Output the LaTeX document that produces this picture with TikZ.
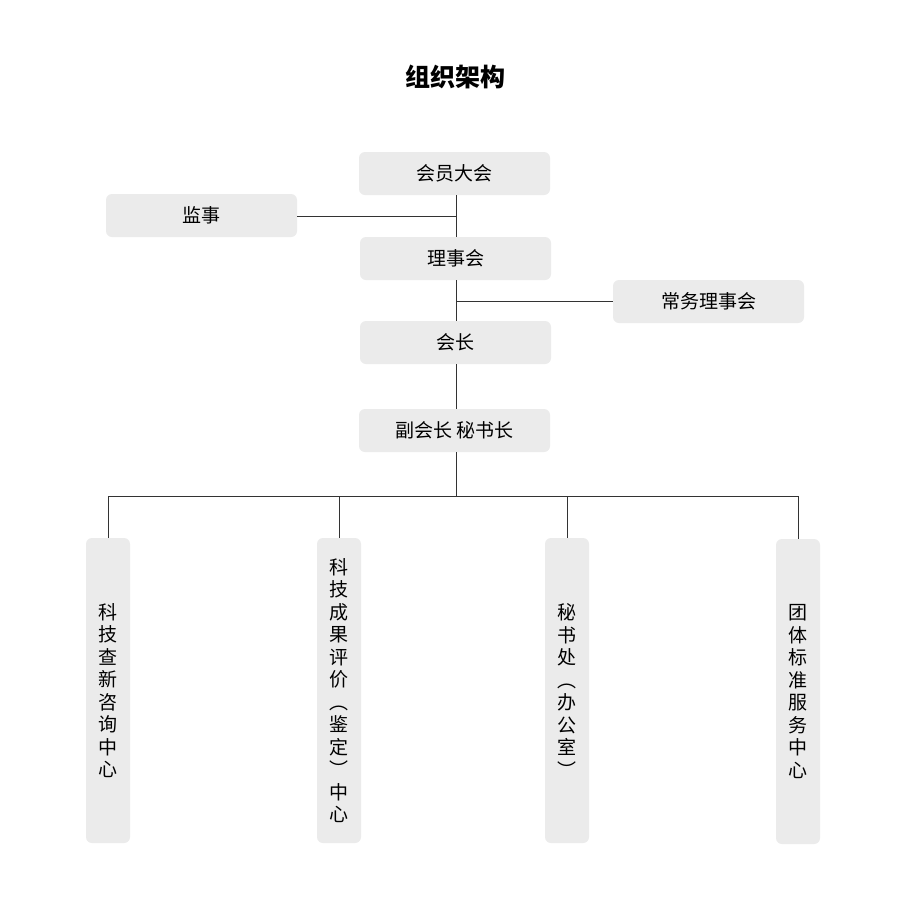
\documentclass[tikz,border=0pt]{standalone}
\usepackage{fontspec}
\newfontfamily\cjk{Noto Sans CJK SC}
\begin{document}
\begin{tikzpicture}[x=1pt,y=-1pt,
  box/.style={fill=black!8,rounded corners=6pt,minimum width=191pt,minimum height=43pt,inner sep=0pt,font=\cjk\fontsize{19}{22}\selectfont},
  vbox/.style={fill=black!8,rounded corners=6pt,minimum width=44pt,minimum height=305pt,inner sep=0pt,align=center,font=\cjk\fontsize{19}{22.5}\selectfont},
  ln/.style={draw=black!80,line width=0.8pt}]
\useasboundingbox[fill=white] (0,0) rectangle (910,922);
\node[font=\cjk\bfseries\fontsize{25}{28}\selectfont] (title) at (455,77) {组织架构};
\node[box] (hy) at (454.5,173.5) {会员大会};
\node[box] (js) at (201.5,215.5) {监事};
\node[box] (ls) at (455.5,258.5) {理事会};
\node[box] (cw) at (708.5,301.5) {常务理事会};
\node[box] (hz) at (455.5,342.5) {会长};
\node[box] (fh) at (454.5,430.5) {副会长 秘书长};
\node[vbox] (b1) at (108,690.5) {科\\技\\查\\新\\咨\\询\\中\\心};
\node[vbox] (b2) at (339,690.5) {科\\技\\成\\果\\评\\价\\︵\\鉴\\定\\︶\\中\\心};
\node[vbox] (b3) at (567,690.5) {秘\\书\\处\\︵\\办\\公\\室\\︶};
\node[vbox] (b4) at (798,691.5) {团\\体\\标\\准\\服\\务\\中\\心};
\coordinate (j1) at (456,216);
\coordinate (j2) at (456,301);
\coordinate (bar) at (456,496);
\draw[ln] (456,195) -- (456,237);
\draw[ln] (js.east |- j1) -- (j1);
\draw[ln] (j2) -- (cw.west |- j2);
\draw[ln] (456,280) -- (456,321);
\draw[ln] (456,364) -- (456,409);
\draw[ln] (456,452) -- (bar);
\draw[ln] (b1.north |- bar) -- (b4.north |- bar);
\foreach \b in {b1,b2,b3,b4} \draw[ln] (\b.north |- bar) -- (\b.north);
\end{tikzpicture}
\end{document}
